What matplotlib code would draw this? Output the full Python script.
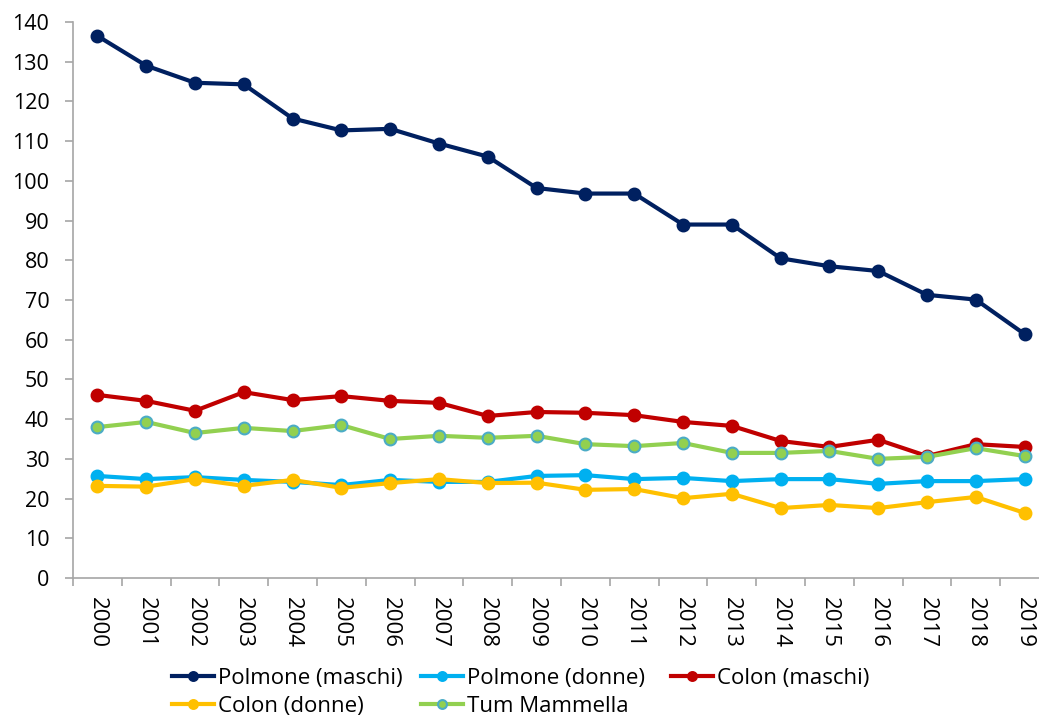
import matplotlib
matplotlib.use("Agg")
import matplotlib.pyplot as plt

years = [str(y) for y in range(2000, 2020)]
polmone_maschi = [136.5, 129.0, 124.7, 124.3, 115.7, 112.7, 113.1, 109.4, 106.1, 98.2,
                  96.8, 96.8, 89.0, 89.0, 80.5, 78.5, 77.3, 71.3, 70.1, 61.4]
polmone_donne = [25.7, 24.9, 25.4, 24.7, 24.2, 23.4, 24.7, 24.2, 24.2, 25.7,
                 25.9, 24.9, 25.2, 24.4, 24.9, 24.9, 23.7, 24.4, 24.4, 24.9]
colon_maschi = [46.1, 44.6, 42.1, 46.8, 44.8, 45.8, 44.6, 44.1, 40.8, 41.8,
                41.6, 41.0, 39.3, 38.3, 34.5, 33.0, 34.8, 30.7, 33.7, 33.0]
colon_donne = [23.2, 23.0, 24.9, 23.2, 24.7, 22.7, 23.9, 24.9, 23.9, 24.0,
               22.2, 22.4, 20.1, 21.2, 17.6, 18.4, 17.6, 19.1, 20.4, 16.4]
mammella = [38.0, 39.3, 36.5, 37.8, 37.0, 38.5, 35.0, 35.8, 35.3, 35.8,
            33.7, 33.2, 34.0, 31.5, 31.5, 32.0, 30.0, 30.5, 32.7, 30.7]
labels = ["Polmone (maschi)", "Polmone (donne)", "Colon (maschi)", "Colon (donne)", "Tum Mammella"]

plt.rcParams['font.family'] = ['Open Sans', 'DejaVu Sans']

fig = plt.figure(figsize=(10.39, 7.16), dpi=100)
ax = fig.add_axes([73/1039, 1-578/716, (1049-73)/1039, (578-22)/716])

x = list(range(len(years)))
series = [
    (polmone_maschi, "#002060", "#002060"),
    (polmone_donne, "#00B0F0", "#00B0F0"),
    (colon_maschi, "#C00000", "#C00000"),
    (colon_donne, "#FFC000", "#FFC000"),
    (mammella, "#92D050", "#4BACC6"),
]
handles = []
for (vals, col, edge), lab in zip(series, labels):
    h, = ax.plot(x, vals, color=col, lw=3, marker='o', ms=8.5, mfc=col, mec=edge,
                 mew=1.5, label=lab)
    handles.append(h)

ax.set_xlim(-0.5, len(years) - 0.5)
ax.set_ylim(0, 140)
ax.set_yticks(range(0, 141, 10))
ax.set_xticks(x)
ax.set_xticklabels(years, rotation=-90, fontsize=16)
ax.tick_params(axis='x', length=0, pad=14)
ax.set_xticks([i - 0.5 for i in range(len(years) + 1)], minor=True)
ax.tick_params(axis='x', which='minor', length=6, color='#A6A6A6', width=1.2)
ax.tick_params(axis='y', labelsize=15.5, length=6, color='#A6A6A6', width=1.2, pad=11)
for s in ['top', 'right']:
    ax.spines[s].set_visible(False)
for s in ['left', 'bottom']:
    ax.spines[s].set_color('#A6A6A6')
    ax.spines[s].set_linewidth(1.2)

# legend: three equal-width columns like the original
columns = [[0, 3], [1, 4], [2]]
col_x = [172, 421, 671]
top_y = 1 - 668/716
for idx, cx in zip(columns, col_x):
    fig.legend([handles[i] for i in idx], [labels[i] for i in idx],
               loc='upper left', bbox_to_anchor=(cx/1039, top_y),
               ncol=1, frameon=False, fontsize=16, handlelength=1.9,
               handletextpad=0.15, labelspacing=0.3,
               markerscale=0.75, borderpad=0, borderaxespad=0)

fig.savefig("out.png", dpi=100)
